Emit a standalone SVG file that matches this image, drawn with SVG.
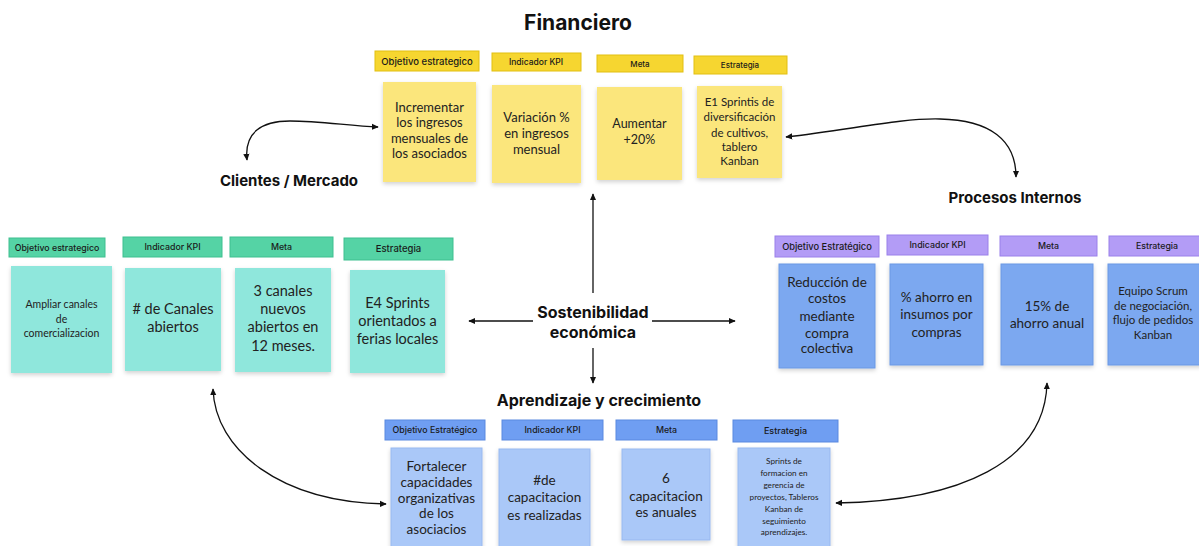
<svg xmlns="http://www.w3.org/2000/svg" width="1199" height="546" viewBox="0 0 1199 546">
<defs>
<filter id="sh" x="-10%" y="-10%" width="125%" height="125%">
<feDropShadow dx="0" dy="2" stdDeviation="2" flood-color="#000" flood-opacity="0.18"/>
</filter>
<marker id="ah" viewBox="0 0 10 10" refX="8" refY="5" markerWidth="6" markerHeight="6" orient="auto-start-reverse">
<path d="M0,1 L9,5 L0,9 z" fill="#111"/>
</marker>
<style>
.title{font-family:Inter,"Noto Sans",sans-serif;font-weight:700;fill:#111;text-anchor:middle}
.hd{font-family:Inter,"Noto Sans",sans-serif;font-weight:500;fill:#1a1a1a;text-anchor:middle}
.nt{font-family:Lato,"Noto Sans",sans-serif;fill:#222;text-anchor:middle}
.yh{fill:#f6d630;stroke:#e2bf10;stroke-width:1}
.yn{fill:#fbe67c}
.th{fill:#55d3a5;stroke:#3fbf8f;stroke-width:1}
.tn{fill:#8fe7dc}
.ph{fill:#b39cf6;stroke:#9a80ea;stroke-width:1}
.pn{fill:#7ca8f0;stroke:#6b98e4;stroke-width:1}
.bh{fill:#6f9ef2;stroke:#5a89e0;stroke-width:1}
.bn{fill:#aac8f8;stroke:#98b9f0;stroke-width:1}
.cn{fill:none;stroke:#111;stroke-width:1.3}
</style>
</defs>
<rect width="1199" height="546" fill="#ffffff"/>

<g id="titles">
<text class="title" x="578" y="30" font-size="21">Financiero</text>
<text class="title" x="289" y="186" font-size="15">Clientes / Mercado</text>
<text class="title" x="1015" y="203" font-size="15">Procesos Internos</text>
<text class="title" x="599" y="406" font-size="16">Aprendizaje y crecimiento</text>
</g>

<g id="center">
<text class="title" x="593" y="318" font-size="16">Sostenibilidad</text>
<text class="title" x="593" y="338" font-size="16">económica</text>
</g>

<g id="connectors">
<line class="cn" x1="593" y1="293" x2="593" y2="194" marker-end="url(#ah)"/>
<line class="cn" x1="593" y1="348" x2="593" y2="383" marker-end="url(#ah)"/>
<line class="cn" x1="533" y1="321" x2="469" y2="321" marker-end="url(#ah)"/>
<line class="cn" x1="652" y1="321" x2="735" y2="321" marker-end="url(#ah)"/>
<path class="cn" d="M247,160 C244,132 262,121 290,121 C320,121 350,126 378,127" marker-start="url(#ah)" marker-end="url(#ah)"/>
<path class="cn" d="M786,137 C850,130 900,118 940,119 C990,120 1016,140 1016,177" marker-start="url(#ah)" marker-end="url(#ah)"/>
<path class="cn" d="M213,389 C215,450 280,502 386,504" marker-start="url(#ah)" marker-end="url(#ah)"/>
<path class="cn" d="M1047,383 C1045,462 960,501 836,503" marker-start="url(#ah)" marker-end="url(#ah)"/>
</g>

<!-- Financiero -->
<g id="fin-h1"><rect class="yh" x="375" y="51" width="104" height="20"/><text class="hd" x="427" y="64.5" font-size="9.5">Objetivo estrategico</text></g>
<g id="fin-h2"><rect class="yh" x="492" y="53" width="89" height="18"/><text class="hd" x="536" y="65" font-size="8.5">Indicador KPI</text></g>
<g id="fin-h3"><rect class="yh" x="597" y="55" width="86" height="17"/><text class="hd" x="640" y="66.5" font-size="8">Meta</text></g>
<g id="fin-h4"><rect class="yh" x="694" y="56" width="93" height="18"/><text class="hd" x="740" y="68" font-size="8">Estrategia</text></g>

<g id="fin-n1"><rect class="yn" x="383" y="82" width="93" height="100" filter="url(#sh)"/>
<text class="nt" font-size="13"><tspan x="429.5" y="111.5">Incrementar</tspan><tspan x="429.5" y="127">los ingresos</tspan><tspan x="429.5" y="142.5">mensuales de</tspan><tspan x="429.5" y="158">los asociados</tspan></text></g>
<g id="fin-n2"><rect class="yn" x="492" y="85" width="89" height="98" filter="url(#sh)"/>
<text class="nt" font-size="13"><tspan x="536.5" y="121.5">Variación %</tspan><tspan x="536.5" y="137.5">en ingresos</tspan><tspan x="536.5" y="154">mensual</tspan></text></g>
<g id="fin-n3"><rect class="yn" x="597" y="87" width="85" height="93" filter="url(#sh)"/>
<text class="nt" font-size="12.5"><tspan x="639.5" y="127.5">Aumentar</tspan><tspan x="639.5" y="144">+20%</tspan></text></g>
<g id="fin-n4"><rect class="yn" x="697" y="86" width="85" height="92" filter="url(#sh)"/>
<text class="nt" font-size="11.5"><tspan x="739.5" y="106">E1 Sprintis de</tspan><tspan x="739.5" y="121">diversificación</tspan><tspan x="739.5" y="137">de cultivos,</tspan><tspan x="739.5" y="151">tablero</tspan><tspan x="739.5" y="165">Kanban</tspan></text></g>

<!-- Clientes -->
<g id="cli-h1"><rect class="th" x="9" y="238" width="96" height="19"/><text class="hd" x="57" y="251" font-size="8.8">Objetivo estrategico</text></g>
<g id="cli-h2"><rect class="th" x="123" y="237" width="99" height="20"/><text class="hd" x="172.5" y="249.5" font-size="8.8">Indicador KPI</text></g>
<g id="cli-h3"><rect class="th" x="230" y="237" width="103" height="20"/><text class="hd" x="281.5" y="249.5" font-size="8.8">Meta</text></g>
<g id="cli-h4"><rect class="th" x="344" y="238" width="109" height="22"/><text class="hd" x="398.5" y="252" font-size="9.5">Estrategia</text></g>

<g id="cli-n1"><rect class="tn" x="11" y="266" width="101" height="107" filter="url(#sh)"/>
<text class="nt" font-size="10.5"><tspan x="61.5" y="308">Ampliar canales</tspan><tspan x="61.5" y="323">de</tspan><tspan x="61.5" y="337">comercializacion</tspan></text></g>
<g id="cli-n2"><rect class="tn" x="125" y="268" width="96" height="103" filter="url(#sh)"/>
<text class="nt" font-size="14.5"><tspan x="173" y="314">#  de Canales</tspan><tspan x="173" y="332">abiertos</tspan></text></g>
<g id="cli-n3"><rect class="tn" x="235" y="268" width="96" height="104" filter="url(#sh)"/>
<text class="nt" font-size="14.5"><tspan x="283" y="296">3 canales</tspan><tspan x="283" y="314">nuevos</tspan><tspan x="283" y="332">abiertos en</tspan><tspan x="283" y="351">12 meses.</tspan></text></g>
<g id="cli-n4"><rect class="tn" x="350" y="270" width="95" height="103" filter="url(#sh)"/>
<text class="nt" font-size="14.5"><tspan x="397.5" y="308">E4 Sprints</tspan><tspan x="397.5" y="326">orientados a</tspan><tspan x="397.5" y="344">ferias locales</tspan></text></g>

<!-- Procesos -->
<g id="pro-h1"><rect class="ph" x="775" y="236" width="104" height="21"/><text class="hd" x="827" y="249.5" font-size="9.3">Objetivo Estratégico</text></g>
<g id="pro-h2"><rect class="ph" x="887" y="235" width="101" height="20"/><text class="hd" x="937.5" y="248" font-size="8.8">Indicador KPI</text></g>
<g id="pro-h3"><rect class="ph" x="1000" y="236" width="97" height="20"/><text class="hd" x="1048.5" y="249" font-size="8.8">Meta</text></g>
<g id="pro-h4"><rect class="ph" x="1109" y="236" width="95" height="20"/><text class="hd" x="1157" y="249" font-size="8.8">Estrategia</text></g>

<g id="pro-n1"><rect class="pn" x="779" y="264" width="96" height="104" filter="url(#sh)"/>
<text class="nt" font-size="13.5"><tspan x="827" y="287">Reducción de</tspan><tspan x="827" y="303">costos</tspan><tspan x="827" y="320.5">mediante</tspan><tspan x="827" y="337.5">compra</tspan><tspan x="827" y="353">colectiva</tspan></text></g>
<g id="pro-n2"><rect class="pn" x="890" y="264" width="93" height="101" filter="url(#sh)"/>
<text class="nt" font-size="13.5"><tspan x="936.5" y="301.5">% ahorro en</tspan><tspan x="936.5" y="319">insumos por</tspan><tspan x="936.5" y="336.5">compras</tspan></text></g>
<g id="pro-n3"><rect class="pn" x="1001" y="264" width="92" height="101" filter="url(#sh)"/>
<text class="nt" font-size="13.5"><tspan x="1047" y="311">15% de</tspan><tspan x="1047" y="328">ahorro anual</tspan></text></g>
<g id="pro-n4"><rect class="pn" x="1108" y="264" width="95" height="101" filter="url(#sh)"/>
<text class="nt" font-size="11.5"><tspan x="1153" y="295">Equipo Scrum</tspan><tspan x="1153" y="310">de negociación,</tspan><tspan x="1153" y="324">flujo de pedidos</tspan><tspan x="1153" y="339">Kanban</tspan></text></g>

<!-- Aprendizaje -->
<g id="apr-h1"><rect class="bh" x="385" y="420" width="100" height="20"/><text class="hd" x="435" y="433" font-size="8.8">Objetivo Estratégico</text></g>
<g id="apr-h2"><rect class="bh" x="502" y="420" width="101" height="20"/><text class="hd" x="552.5" y="433" font-size="8.8">Indicador KPI</text></g>
<g id="apr-h3"><rect class="bh" x="616" y="420" width="101" height="20"/><text class="hd" x="666.5" y="433" font-size="8.8">Meta</text></g>
<g id="apr-h4"><rect class="bh" x="733" y="420" width="105" height="22"/><text class="hd" x="785.5" y="434" font-size="9">Estrategia</text></g>

<g id="apr-n1"><rect class="bn" x="391" y="448" width="91" height="102" filter="url(#sh)"/>
<text class="nt" font-size="13.5"><tspan x="436.5" y="471">Fortalecer</tspan><tspan x="436.5" y="487">capacidades</tspan><tspan x="436.5" y="503">organizativas</tspan><tspan x="436.5" y="518">de los</tspan><tspan x="436.5" y="534">asociacios</tspan></text></g>
<g id="apr-n2"><rect class="bn" x="499" y="449" width="91" height="100" filter="url(#sh)"/>
<text class="nt" font-size="13.5"><tspan x="544.5" y="485">#de</tspan><tspan x="544.5" y="502">capacitacion</tspan><tspan x="544.5" y="520">es realizadas</tspan></text></g>
<g id="apr-n3"><rect class="bn" x="622" y="449" width="88" height="91" filter="url(#sh)"/>
<text class="nt" font-size="13.5"><tspan x="666" y="483">6</tspan><tspan x="666" y="500.5">capacitacion</tspan><tspan x="666" y="517">es anuales</tspan></text></g>
<g id="apr-n4"><rect class="bn" x="738" y="448" width="92" height="102" filter="url(#sh)"/>
<text class="nt" font-size="8.2"><tspan x="784" y="464">Sprints de</tspan><tspan x="784" y="476">formacion en</tspan><tspan x="784" y="488">gerencia de</tspan><tspan x="784" y="500">proyectos, Tableros</tspan><tspan x="784" y="512">Kanban de</tspan><tspan x="784" y="524">seguimiento</tspan><tspan x="784" y="535">aprendizajes.</tspan></text></g>
</svg>
